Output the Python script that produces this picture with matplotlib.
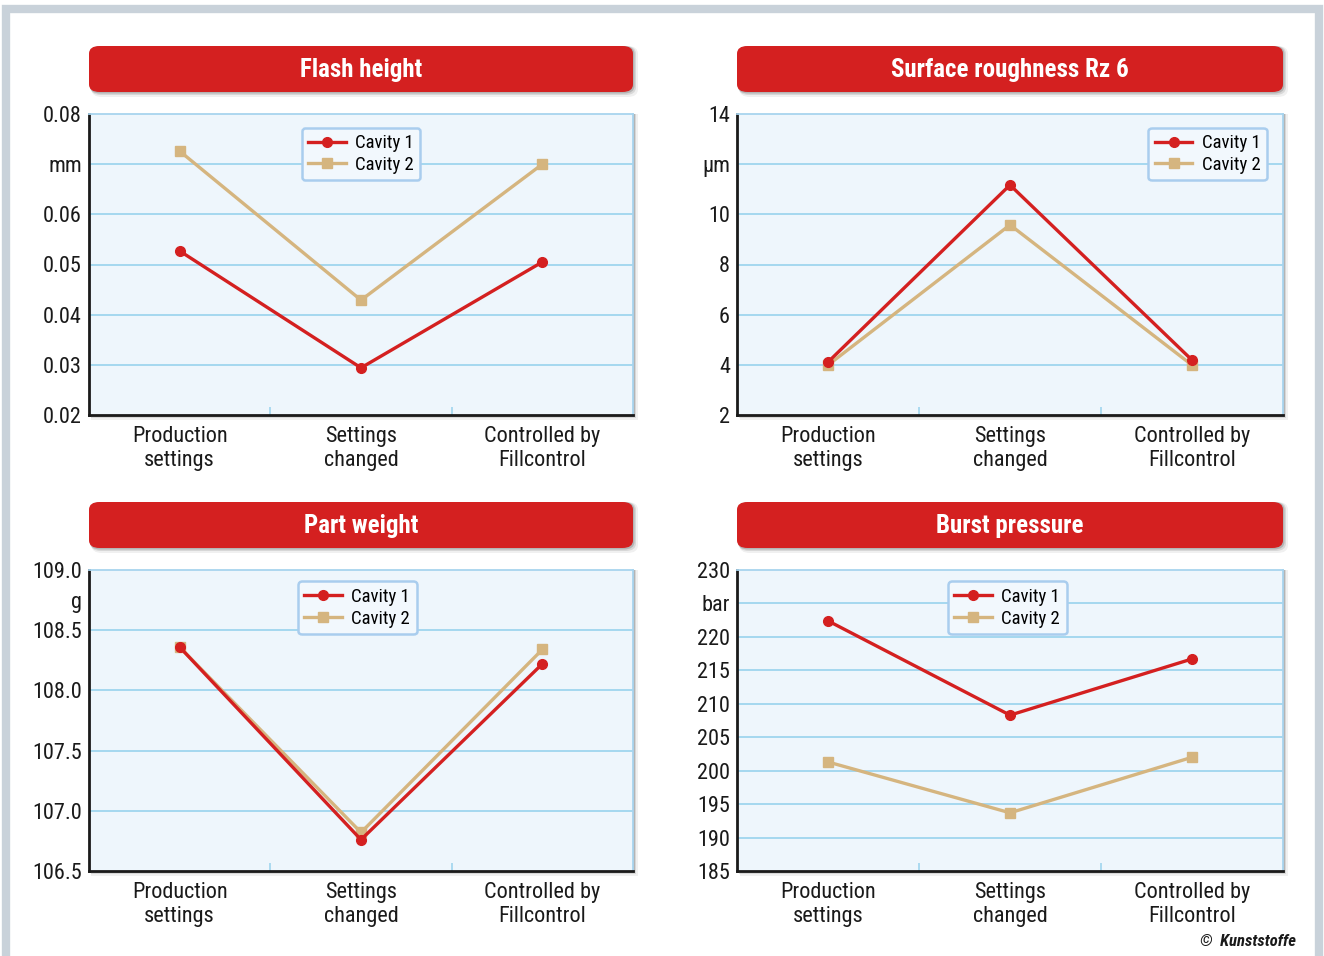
import numpy as np
import matplotlib
matplotlib.use("Agg")
import matplotlib.pyplot as plt
from matplotlib.patches import FancyBboxPatch, Rectangle

plt.rcParams['font.family'] = ['Roboto Condensed', 'Lato', 'DejaVu Sans']

# Data
categories = ["Production\nsettings", "Settings\nchanged", "Controlled by\nFillcontrol"]

flash_c1 = [0.0527, 0.0294, 0.0505]
flash_c2 = [0.0726, 0.0429, 0.0700]

rough_c1 = [4.11, 11.17, 4.19]
rough_c2 = [3.99, 9.58, 3.99]

weight_c1 = [108.36, 106.76, 108.22]
weight_c2 = [108.36, 106.82, 108.34]

burst_c1 = [222.4, 208.3, 216.7]
burst_c2 = [201.3, 193.7, 202.0]

panels = [
    dict(title="Flash height", c1=flash_c1, c2=flash_c2,
         ticks=[0.02, 0.03, 0.04, 0.05, 0.06, 0.07, 0.08],
         labels=["0.02", "0.03", "0.04", "0.05", "0.06", "mm", "0.08"],
         grid=[0.03, 0.04, 0.05, 0.06, 0.07], box=(89, 633, 114, 415),
         leg=(0.5, 0.955, "upper center")),
    dict(title="Surface roughness Rz 6", c1=rough_c1, c2=rough_c2,
         ticks=[2, 4, 6, 8, 10, 12, 14],
         labels=["2", "4", "6", "8", "10", "µm", "14"],
         grid=[4, 6, 8, 10, 12], box=(737, 1283, 114, 415),
         leg=(0.971, 0.955, "upper right")),
    dict(title="Part weight", c1=weight_c1, c2=weight_c2,
         ticks=[106.5, 107.0, 107.5, 108.0, 108.5, 108.75, 109.0],
         labels=["106.5", "107.0", "107.5", "108.0", "108.5", "g", "109.0"],
         grid=[107.0, 107.5, 108.0, 108.5], box=(89, 633, 570, 871),
         leg=(0.493, 0.962, "upper center")),
    dict(title="Burst pressure", c1=burst_c1, c2=burst_c2,
         ticks=[185, 190, 195, 200, 205, 210, 215, 220, 225, 230],
         labels=["185", "190", "195", "200", "205", "210", "215", "220", "bar", "230"],
         grid=[190, 195, 200, 205, 210, 215, 220, 225], box=(737, 1283, 570, 871),
         leg=(0.495, 0.962, "upper center")),
]

W, H = 1324, 956
RED = "#d42020"
TAN = "#d5b57f"
GRID = "#9fd5ee"
BG = "#eef6fc"

fig = plt.figure(figsize=(W / 100, H / 100), dpi=100)
fig.patch.set_facecolor("white")


def fx(px):
    return px / W


def fy(py):
    return 1 - py / H


# outer frame
fig.patches.append(Rectangle((fx(6), fy(980)), fx(1313), fy(9) - fy(980),
                             transform=fig.transFigure, fill=False,
                             edgecolor="#c9d2da", linewidth=6, zorder=-2))

for p in panels:
    l, r, t, b = p["box"]

    # soft shadow behind the plot area
    for k, a in ((5, 0.06), (3, 0.1), (1.5, 0.16)):
        fig.patches.append(Rectangle((fx(l + k / 2), fy(b + k)), fx(r - l + k / 2), fy(t) - fy(b + k),
                                     transform=fig.transFigure, facecolor="#000000",
                                     alpha=a, edgecolor="none", zorder=-1))

    ax = fig.add_axes([fx(l), fy(b), fx(r - l), fy(t) - fy(b)])
    ax.set_facecolor(BG)
    x = np.arange(len(categories))

    for g in p["grid"]:
        ax.axhline(g, color=GRID, linewidth=1.3, zorder=1)

    ax.plot(x, p["c2"], color=TAN, linewidth=2.4, marker="s", markersize=7,
            label="Cavity 2", zorder=3)
    ax.plot(x, p["c1"], color=RED, linewidth=2.4, marker="o", markersize=7,
            label="Cavity 1", zorder=4)

    ax.set_xlim(-0.5, 2.5)
    ax.set_ylim(p["ticks"][0], p["ticks"][-1])
    ax.set_yticks(p["ticks"])
    ax.set_yticklabels(p["labels"])
    ax.set_xticks(x)
    ax.set_xticklabels(categories)
    ax.set_xticks([0.5, 1.5], minor=True)
    ax.tick_params(axis="y", length=0, pad=5, labelsize=16, labelcolor="#1a1a1a")
    ax.tick_params(axis="x", which="major", length=0, pad=8, labelsize=16,
                   labelcolor="#1a1a1a")
    ax.tick_params(axis="x", which="minor", direction="in", length=6,
                   color=GRID, width=1.2)
    for lbl in ax.get_xticklabels():
        lbl.set_linespacing(1.15)

    for side in ("left", "bottom"):
        ax.spines[side].set_color("#1a1a1a")
        ax.spines[side].set_linewidth(2)
    for side in ("top", "right"):
        ax.spines[side].set_color("#a8d4ee")
        ax.spines[side].set_linewidth(1.3)

    handles, labels = ax.get_legend_handles_labels()
    lx, ly, loc = p["leg"]
    leg = ax.legend(handles[::-1], labels[::-1], loc=loc, bbox_to_anchor=(lx, ly),
                    fontsize=13.5, frameon=True, fancybox=True, handlelength=2.0,
                    handletextpad=0.5, borderpad=0.35, labelspacing=0.2,
                    borderaxespad=0)
    leg.get_frame().set_facecolor("#f2f8fd")
    leg.get_frame().set_edgecolor("#a9cdee")
    leg.get_frame().set_linewidth(1.8)
    leg.get_frame().set_alpha(1)

    # red title banner
    tt, tb = t - 68, t - 22
    for k, a in ((5, 0.06), (3, 0.1), (1.5, 0.16)):
        fig.patches.append(FancyBboxPatch((fx(l + k / 2), fy(tb + k)), fx(r - l + k / 2), fy(tt) - fy(tb + k),
                                          boxstyle="round,pad=0,rounding_size=0.008",
                                          transform=fig.transFigure, facecolor="#000000",
                                          alpha=a, edgecolor="none", zorder=-1))
    fig.patches.append(FancyBboxPatch((fx(l), fy(tb)), fx(r - l), fy(tt) - fy(tb),
                                      boxstyle="round,pad=0,rounding_size=0.008",
                                      transform=fig.transFigure, facecolor=RED,
                                      edgecolor="none", zorder=1))
    fig.text(fx((l + r) / 2), fy((tt + tb) / 2 + 1), p["title"], color="white",
             fontsize=18, fontweight="bold", ha="center", va="center", zorder=2)

fig.text(fx(1296), fy(941), "©  Kunststoffe", fontsize=12, fontweight="bold",
         fontstyle="italic", ha="right", va="center", color="#1a1a1a")

fig.savefig("out.png", dpi=100)
